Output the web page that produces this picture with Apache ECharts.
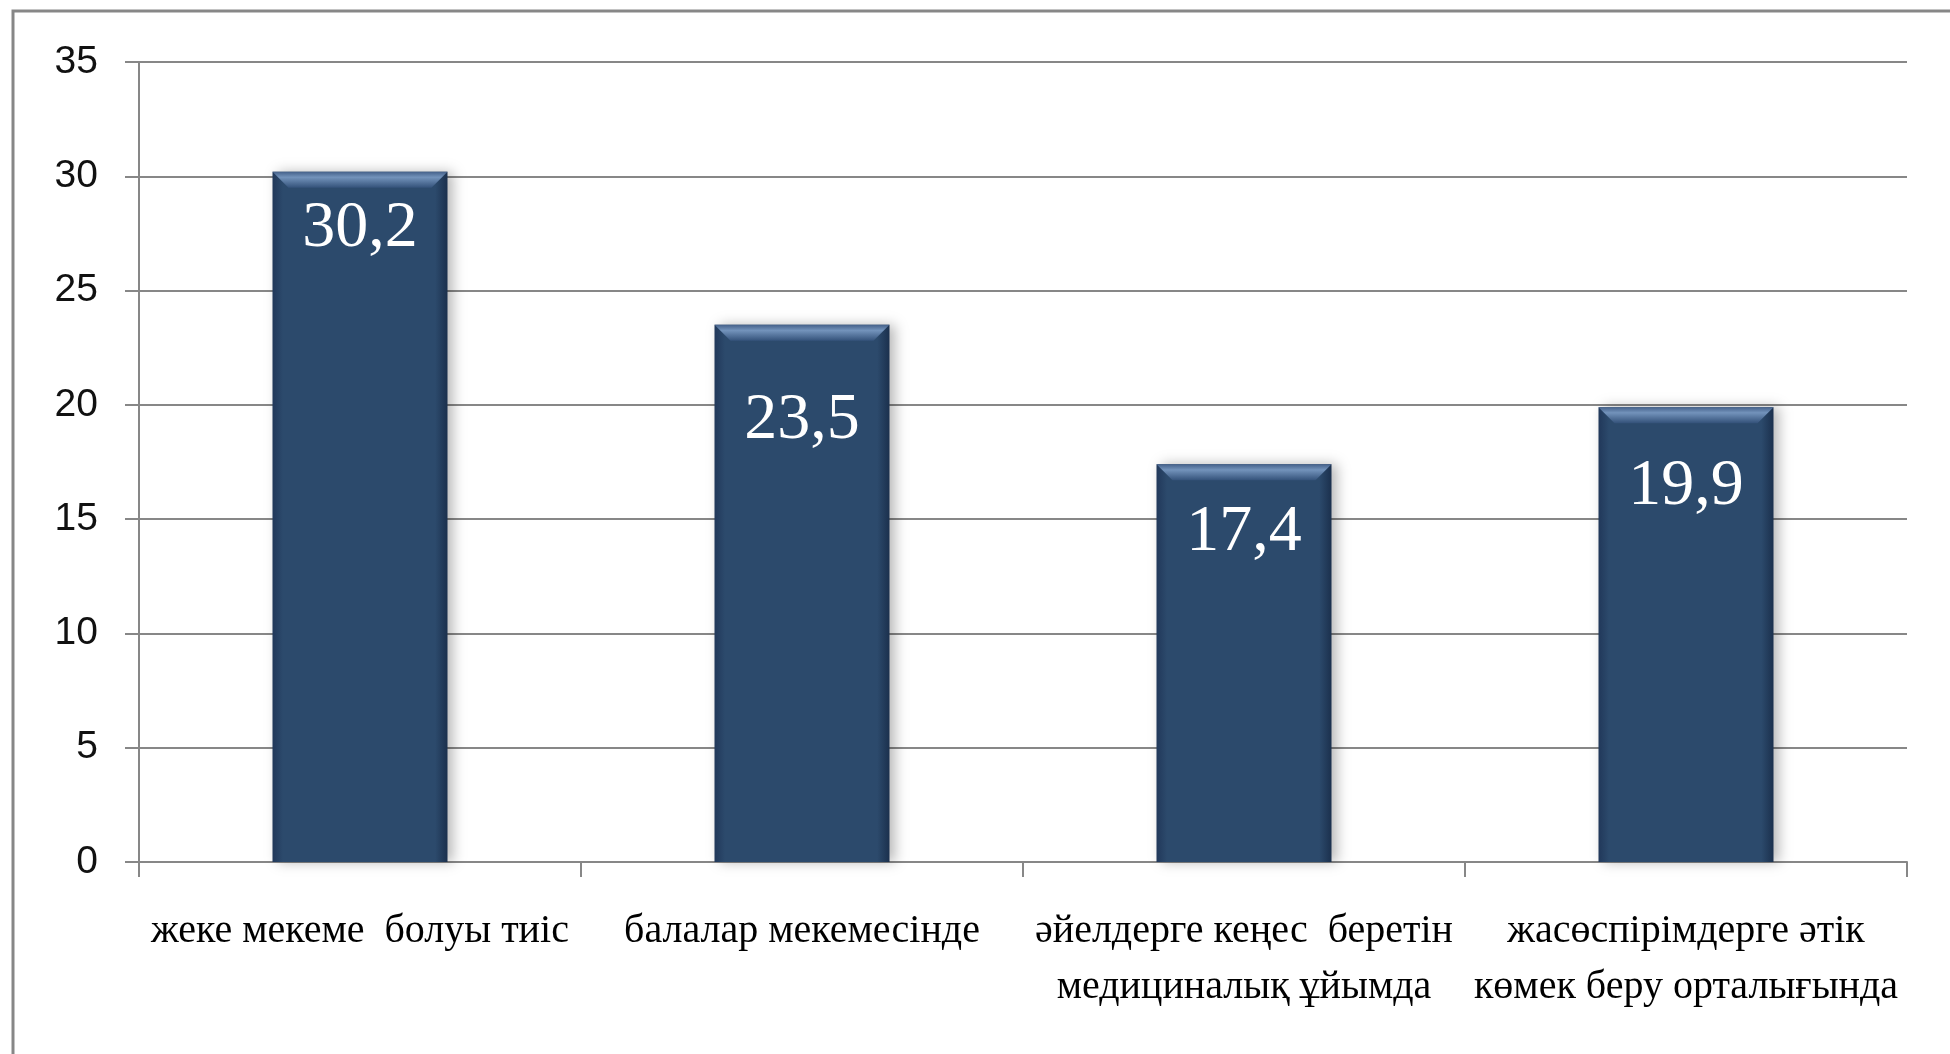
<!DOCTYPE html>
<html>
<head>
<meta charset="utf-8">
<script src="https://cdn.jsdelivr.net/npm/echarts@6/dist/echarts.min.js"></script>
<style>
  html, body { margin: 0; padding: 0; background: #fff; }
  #chart { width: 1950px; height: 1054px; }
</style>
</head>
<body>
<div id="chart"></div>
<script>
const categories = [
  'жеке мекеме  болуы тиіс',
  'балалар мекемесінде',
  'әйелдерге кеңес  беретін\nмедициналық ұйымда',
  'жасөспірімдерге әтік\nкөмек беру орталығында'
]
const values = [30.2, 23.5, 17.4, 19.9]
const yTicks = { min: 0, max: 35, interval: 5 }

// where each value label sits below the bar top (px), as placed in the original
const labelDrop = [57, 96, 68, 80]

const BAR_W = 175
const chart = echarts.init(document.getElementById('chart'))

const option = {
  animation: false,
  graphic: [
    {
      type: 'rect',
      shape: { x: 13, y: 11, width: 2100, height: 2100 },
      style: { fill: 'none', stroke: '#878787', lineWidth: 3 },
      silent: true
    }
  ],
  grid: { left: 139, right: 43, top: 62, bottom: 192 },
  xAxis: {
    type: 'category',
    data: categories,
    boundaryGap: true,
    axisLine: { lineStyle: { color: '#878787', width: 2 } },
    axisTick: { show: true, length: 15, lineStyle: { color: '#878787', width: 2 } },
    axisLabel: {
      interval: 0,
      margin: 41,
      color: '#000',
      fontFamily: 'Liberation Serif',
      fontSize: 40,
      lineHeight: 56
    }
  },
  yAxis: {
    type: 'value',
    min: yTicks.min,
    max: yTicks.max,
    interval: yTicks.interval,
    axisLine: { show: true, lineStyle: { color: '#878787', width: 2 } },
    axisTick: { show: true, length: 14, lineStyle: { color: '#878787', width: 2 } },
    splitLine: { lineStyle: { color: '#878787', width: 2 } },
    axisLabel: {
      margin: 41,
      color: '#111',
      fontFamily: 'Liberation Sans',
      fontSize: 39
    }
  },
  series: [
    {
      type: 'bar',
      barWidth: BAR_W,
      data: values.map((v, i) => ({
        value: v,
        label: { position: ['50%', labelDrop[i]] }
      })),
      itemStyle: {
        color: new echarts.graphic.LinearGradient(0, 0, 1, 0, [
          { offset: 0, color: '#21385a' },
          { offset: 0.06, color: '#2c4a6c' },
          { offset: 0.93, color: '#2c4a6c' },
          { offset: 1, color: '#1b304d' }
        ]),
        shadowColor: 'rgba(0, 0, 0, 0.28)',
        shadowBlur: 12,
        shadowOffsetX: 5,
        shadowOffsetY: 0
      },
      label: {
        show: true,
        align: 'center',
        verticalAlign: 'middle',
        color: '#fff',
        fontFamily: 'Liberation Serif',
        fontSize: 66,
        formatter: p => String(p.value).replace('.', ',')
      },
      z: 2
    },
    {
      // top bevel of each bar
      type: 'custom',
      silent: true,
      z: 3,
      data: values.map((v, i) => [i, v]),
      renderItem: (params, api) => {
        const p = api.coord([api.value(0), api.value(1)])
        const x0 = p[0] - BAR_W / 2
        const x1 = p[0] + BAR_W / 2
        const y = p[1]
        const d = 16
        return {
          type: 'polygon',
          shape: { points: [[x0, y], [x1, y], [x1 - d, y + d], [x0 + d, y + d]] },
          style: {
            fill: new echarts.graphic.LinearGradient(0, 0, 0, 1, [
              { offset: 0, color: '#45618a' },
              { offset: 0.35, color: '#7393bb' },
              { offset: 1, color: '#34527a' }
            ])
          }
        }
      }
    }
  ]
}

chart.setOption(option)
</script>
</body>
</html>
